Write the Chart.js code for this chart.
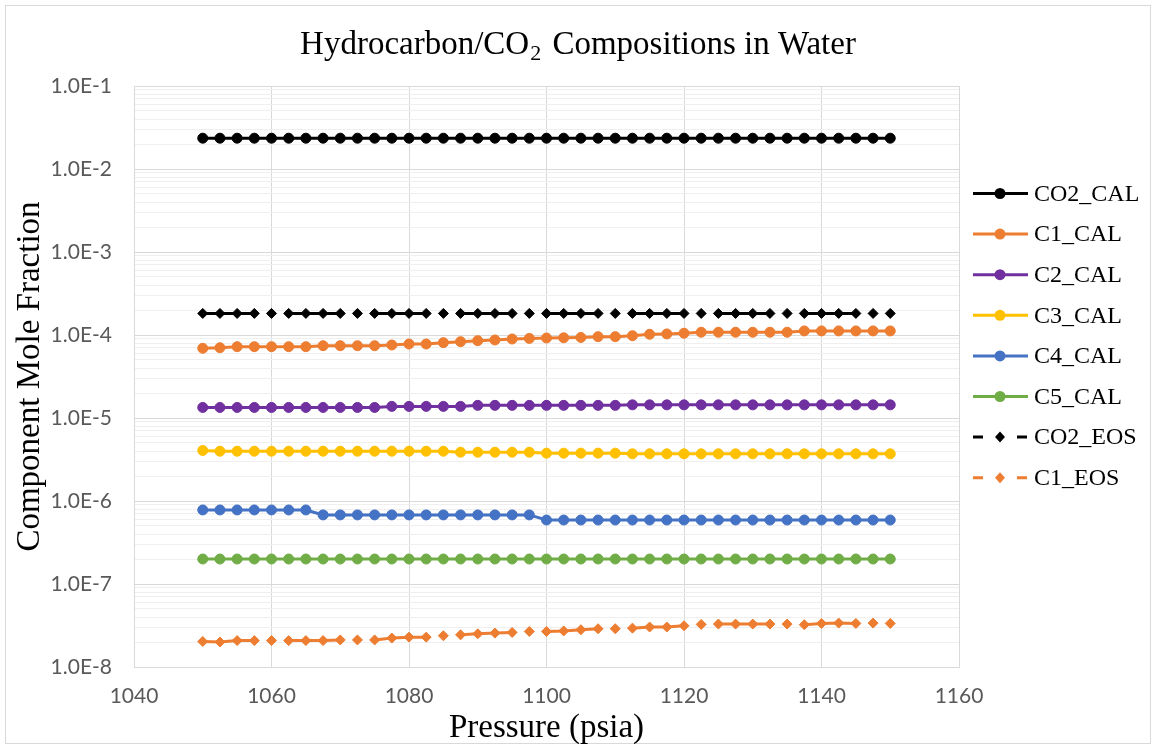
<!DOCTYPE html>
<html><head><meta charset="utf-8">
<script src="https://cdn.jsdelivr.net/npm/chart.js@4.4.1/dist/chart.umd.min.js"></script>
<style>html,body{margin:0;padding:0;background:#fff}canvas{display:block}</style>
</head><body>
<canvas id="c" width="1156" height="749"></canvas>
<script>
// ---- data ----
const pressure = [1050,1052.5,1055,1057.5,1060,1062.5,1065,1067.5,1070,1072.5,1075,1077.5,1080,1082.5,1085,1087.5,1090,1092.5,1095,1097.5,1100,1102.5,1105,1107.5,1110,1112.5,1115,1117.5,1120,1122.5,1125,1127.5,1130,1132.5,1135,1137.5,1140,1142.5,1145,1147.5,1150];
const co2Cal = [0.0235,0.0235,0.0235,0.0235,0.0235,0.0235,0.0235,0.0235,0.0235,0.0235,0.0235,0.0235,0.0235,0.0235,0.0235,0.0235,0.0235,0.0235,0.0235,0.0235,0.0235,0.0235,0.0235,0.0235,0.0235,0.0235,0.0235,0.0235,0.0235,0.0235,0.0235,0.0235,0.0235,0.0235,0.0235,0.0235,0.0235,0.0235,0.0235,0.0235,0.0235];
const c1Cal = [6.91e-5,7.03e-5,7.23e-5,7.23e-5,7.23e-5,7.23e-5,7.23e-5,7.43e-5,7.43e-5,7.43e-5,7.43e-5,7.58e-5,7.79e-5,7.79e-5,8.09e-5,8.31e-5,8.55e-5,8.71e-5,8.95e-5,9.10e-5,9.20e-5,9.25e-5,9.35e-5,9.55e-5,9.55e-5,9.80e-5,1.02e-4,1.03e-4,1.05e-4,1.08e-4,1.08e-4,1.08e-4,1.08e-4,1.08e-4,1.08e-4,1.12e-4,1.12e-4,1.12e-4,1.12e-4,1.12e-4,1.12e-4];
const c2Cal = [1.34e-5,1.34e-5,1.34e-5,1.34e-5,1.34e-5,1.34e-5,1.34e-5,1.34e-5,1.34e-5,1.34e-5,1.34e-5,1.38e-5,1.38e-5,1.38e-5,1.38e-5,1.38e-5,1.42e-5,1.42e-5,1.42e-5,1.42e-5,1.42e-5,1.42e-5,1.42e-5,1.42e-5,1.42e-5,1.44e-5,1.44e-5,1.44e-5,1.44e-5,1.44e-5,1.44e-5,1.44e-5,1.44e-5,1.44e-5,1.44e-5,1.44e-5,1.44e-5,1.44e-5,1.44e-5,1.44e-5,1.44e-5];
const c3Cal = [4.06e-6,3.98e-6,3.98e-6,3.98e-6,3.98e-6,3.98e-6,3.98e-6,3.98e-6,3.98e-6,3.98e-6,3.98e-6,3.98e-6,3.98e-6,3.98e-6,3.98e-6,3.87e-6,3.87e-6,3.87e-6,3.87e-6,3.87e-6,3.77e-6,3.77e-6,3.77e-6,3.77e-6,3.77e-6,3.70e-6,3.70e-6,3.70e-6,3.70e-6,3.70e-6,3.70e-6,3.70e-6,3.70e-6,3.70e-6,3.70e-6,3.70e-6,3.70e-6,3.70e-6,3.70e-6,3.70e-6,3.70e-6];
const c4Cal = [7.8e-7,7.8e-7,7.8e-7,7.8e-7,7.8e-7,7.8e-7,7.8e-7,6.8e-7,6.8e-7,6.8e-7,6.8e-7,6.8e-7,6.8e-7,6.8e-7,6.8e-7,6.8e-7,6.8e-7,6.8e-7,6.8e-7,6.8e-7,5.9e-7,5.9e-7,5.9e-7,5.9e-7,5.9e-7,5.9e-7,5.9e-7,5.9e-7,5.9e-7,5.9e-7,5.9e-7,5.9e-7,5.9e-7,5.9e-7,5.9e-7,5.9e-7,5.9e-7,5.9e-7,5.9e-7,5.9e-7,5.9e-7];
const c5Cal = [2.0e-7,2.0e-7,2.0e-7,2.0e-7,2.0e-7,2.0e-7,2.0e-7,2.0e-7,2.0e-7,2.0e-7,2.0e-7,2.0e-7,2.0e-7,2.0e-7,2.0e-7,2.0e-7,2.0e-7,2.0e-7,2.0e-7,2.0e-7,2.0e-7,2.0e-7,2.0e-7,2.0e-7,2.0e-7,2.0e-7,2.0e-7,2.0e-7,2.0e-7,2.0e-7,2.0e-7,2.0e-7,2.0e-7,2.0e-7,2.0e-7,2.0e-7,2.0e-7,2.0e-7,2.0e-7,2.0e-7,2.0e-7];
const co2Eos = [1.82e-4,1.82e-4,1.82e-4,1.82e-4,1.82e-4,1.82e-4,1.82e-4,1.82e-4,1.82e-4,1.82e-4,1.82e-4,1.82e-4,1.82e-4,1.82e-4,1.82e-4,1.82e-4,1.82e-4,1.82e-4,1.82e-4,1.82e-4,1.82e-4,1.82e-4,1.82e-4,1.82e-4,1.82e-4,1.82e-4,1.82e-4,1.82e-4,1.82e-4,1.82e-4,1.82e-4,1.82e-4,1.82e-4,1.82e-4,1.82e-4,1.82e-4,1.82e-4,1.82e-4,1.82e-4,1.82e-4,1.82e-4];
const c1Eos = [2.03e-8,2.00e-8,2.08e-8,2.08e-8,2.08e-8,2.08e-8,2.08e-8,2.08e-8,2.12e-8,2.12e-8,2.12e-8,2.23e-8,2.29e-8,2.29e-8,2.38e-8,2.44e-8,2.51e-8,2.56e-8,2.61e-8,2.68e-8,2.68e-8,2.72e-8,2.81e-8,2.89e-8,2.89e-8,2.94e-8,3.03e-8,3.03e-8,3.14e-8,3.26e-8,3.29e-8,3.29e-8,3.29e-8,3.29e-8,3.29e-8,3.23e-8,3.35e-8,3.38e-8,3.35e-8,3.38e-8,3.35e-8];

const seriesNames = ['CO2_CAL','C1_CAL','C2_CAL','C3_CAL','C4_CAL','C5_CAL','CO2_EOS','C1_EOS'];
const seriesValues = [co2Cal,c1Cal,c2Cal,c3Cal,c4Cal,c5Cal,co2Eos,c1Eos];
const xTickValues = [1040,1060,1080,1100,1120,1140,1160];
const xTickLabels = ['1040','1060','1080','1100','1120','1140','1160'];
const yTickLabels = ['1.0E-8','1.0E-7','1.0E-6','1.0E-5','1.0E-4','1.0E-3','1.0E-2','1.0E-1'];
const titleParts = ['Hydrocarbon/CO','2',' Compositions in Water'];
const xTitle = 'Pressure (psia)';
const yTitle = 'Component Mole Fraction';

// ---- styles ----
const seriesColors = ['#000000','#ED7D31','#7030A0','#FFC000','#4472C4','#70AD47','#000000','#ED7D31'];
const seriesMarkers = ['circle','circle','circle','circle','circle','circle','rectRot','rectRot'];
const seriesDashed = [false,false,false,false,false,false,true,true];
const SERIF = '"Liberation Serif","Times New Roman",serif';

const datasets = seriesNames.map((name,i)=>({
  label: name,
  data: pressure.map((x,j)=>({x:x, y:seriesValues[i][j]})),
  borderColor: seriesColors[i],
  backgroundColor: seriesColors[i],
  pointBackgroundColor: seriesColors[i],
  pointBorderColor: seriesColors[i],
  pointStyle: seriesMarkers[i],
  pointRadius: seriesMarkers[i]==='circle' ? 5 : 5,
  pointBorderWidth: 1,
  borderWidth: 3,
  borderDash: seriesDashed[i] ? [52,34] : [],
  tension: 0,
  fill: false
}));

const decorPlugin = {
  id: 'decor',
  beforeDraw(chart){
    const ctx = chart.ctx;
    ctx.save();
    ctx.fillStyle = '#ffffff';
    ctx.fillRect(0,0,chart.width,chart.height);
    ctx.strokeStyle = '#d9d9d9';
    ctx.lineWidth = 1;
    ctx.strokeRect(5.5,5.5,chart.width-11,chart.height-11);
    ctx.restore();
  },
  afterDraw(chart){
    const ctx = chart.ctx;
    ctx.save();
    // title with subscript
    const mainFont = '33px ' + SERIF;
    const subFont = '22px ' + SERIF;
    ctx.font = mainFont;
    const w0 = ctx.measureText(titleParts[0]).width;
    const w2 = ctx.measureText(titleParts[2]).width;
    ctx.font = subFont;
    const w1 = ctx.measureText(titleParts[1]).width;
    const total = w0 + w1 + w2 + 4;
    let x = 578 - total/2;
    const base = 54;
    ctx.fillStyle = '#000000';
    ctx.textBaseline = 'alphabetic';
    ctx.textAlign = 'left';
    ctx.font = mainFont;
    ctx.fillText(titleParts[0], x, base);
    x += w0;
    ctx.font = subFont;
    ctx.fillText(titleParts[1], x + 1, base + 6);
    x += w1 + 4;
    ctx.font = mainFont;
    ctx.fillText(titleParts[2], x, base);

    // legend
    const lx0 = 973, lx1 = 1028, mx = 1000, tx = 1034;
    seriesNames.forEach((name,i)=>{
      const y = 193.5 + i*40.6;
      ctx.strokeStyle = seriesColors[i];
      ctx.fillStyle = seriesColors[i];
      ctx.lineWidth = 3;
      ctx.setLineDash(seriesDashed[i] ? [10,34] : []);
      ctx.beginPath();
      ctx.moveTo(lx0,y); ctx.lineTo(lx1,y);
      ctx.stroke();
      ctx.setLineDash([]);
      ctx.beginPath();
      if (seriesMarkers[i]==='circle') {
        ctx.arc(mx,y,5.5,0,Math.PI*2);
      } else {
        ctx.moveTo(mx,y-5.5); ctx.lineTo(mx+5,y); ctx.lineTo(mx,y+5.5); ctx.lineTo(mx-5,y); ctx.closePath();
      }
      ctx.fill();
      ctx.fillStyle = '#000000';
      ctx.font = '24px ' + SERIF;
      ctx.textBaseline = 'middle';
      ctx.fillText(name, tx, y+1);
    });
    ctx.restore();
  }
};

const tickLabelMap = {};
yTickLabels.forEach(l=>{ tickLabelMap[Number(l).toExponential(0)] = l; });

new Chart(document.getElementById('c'), {
  type: 'line',
  data: { datasets },
  options: {
    responsive: false,
    animation: false,
    devicePixelRatio: 1,
    layout: { padding: { top: 86, right: 197, bottom: 0, left: 0 } },
    plugins: { legend: { display: false }, title: { display: false }, tooltip: { enabled: false } },
    scales: {
      x: {
        type: 'linear',
        min: xTickValues[0],
        max: xTickValues[xTickValues.length-1],
        afterBuildTicks(scale){ scale.ticks = xTickValues.map(v=>({value:v})); },
        afterFit(scale){ scale.height = 82; },
        grid: { color: '#d9d9d9', lineWidth: 1, drawTicks: false },
        border: { color: '#d9d9d9' },
        ticks: {
          padding: 17, color: '#595959', font: { family: 'Lato', size: 21 }, maxRotation: 0, autoSkip: false,
          callback: function(v){ const k = xTickValues.indexOf(Number(v)); return k >= 0 ? xTickLabels[k] : ''; }
        },
        title: { display: true, text: xTitle, color: '#000000', font: { family: SERIF, size: 33 }, padding: { top: 0, bottom: 1 } }
      },
      y: {
        type: 'logarithmic',
        min: Number(yTickLabels[0]),
        max: Number(yTickLabels[yTickLabels.length-1]),
        afterBuildTicks(scale){
          const t = [];
          yTickLabels.forEach((l,k)=>{
            const v = Number(l);
            t.push({value:v, major:true});
            if (k < yTickLabels.length-1) {
              for (let m=2;m<=9;m++) t.push({value:m*v, major:false});
            }
          });
          scale.ticks = t;
        },
        afterFit(scale){ scale.width = 134; },
        grid: {
          drawTicks: false,
          color: (c)=> (c.tick && c.tick.major) ? '#d9d9d9' : '#efefef',
          lineWidth: 1
        },
        border: { color: '#d9d9d9' },
        ticks: {
          autoSkip: false,
          padding: 22,
          color: '#595959',
          font: { family: 'Lato', size: 21 },
          callback: function(v){ const k = Number(v).toExponential(0); return tickLabelMap[k] || ''; }
        },
        title: { display: true, text: yTitle, color: '#000000', font: { family: SERIF, size: 33 }, padding: { top: 11, bottom: 0 } }
      }
    }
  },
  plugins: [decorPlugin]
});
</script>
</body></html>
